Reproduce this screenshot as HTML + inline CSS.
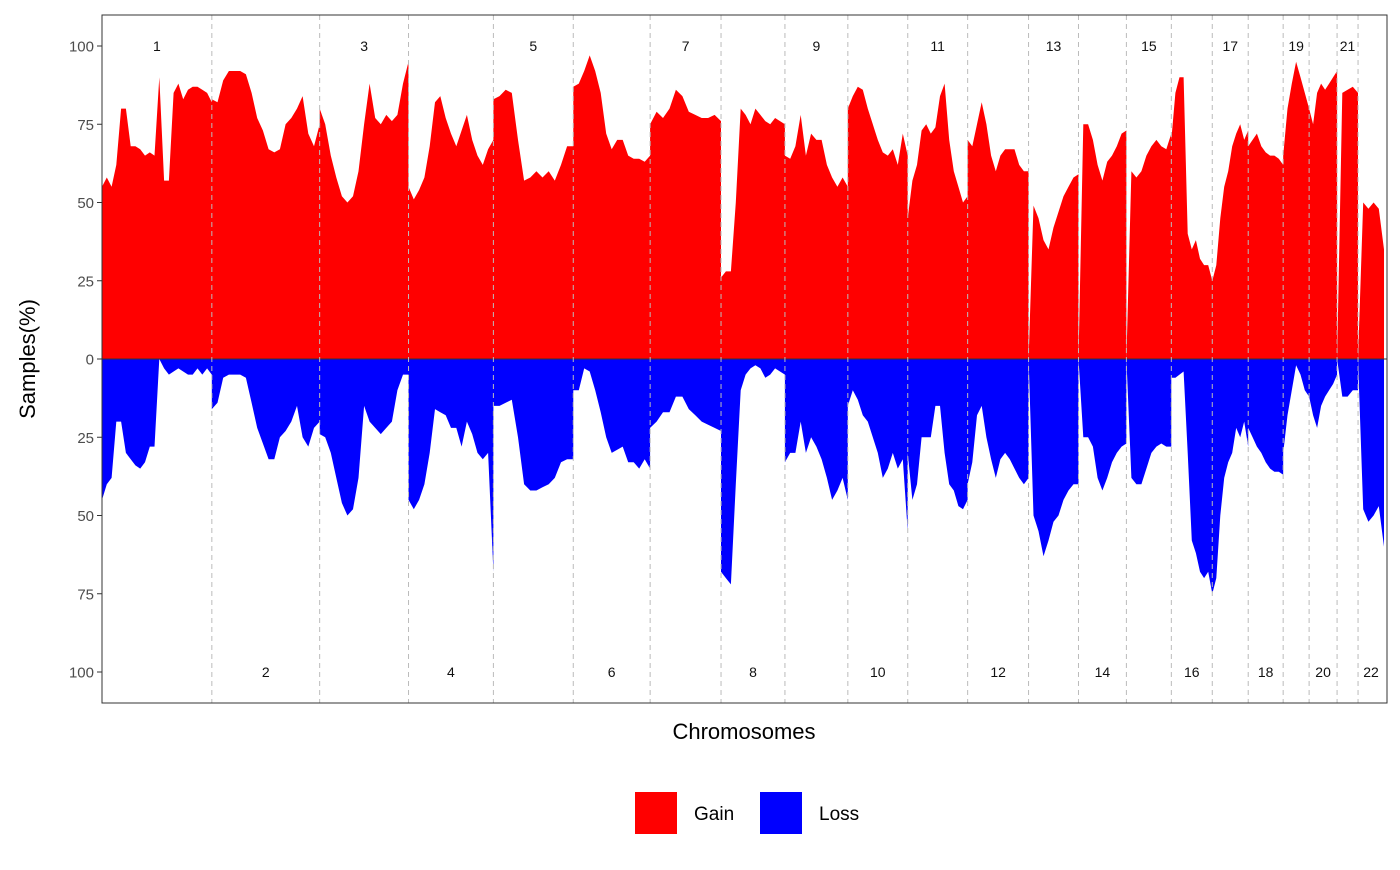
<!DOCTYPE html>
<html><head><meta charset="utf-8"><style>
body{margin:0;background:#fff;font-family:"Liberation Sans",Arial,sans-serif}
</style></head><body>
<svg id="chart" width="1400" height="865" xmlns="http://www.w3.org/2000/svg" font-family="Liberation Sans, Arial, sans-serif">
</svg>
<script>
const chromNames=["1","2","3","4","5","6","7","8","9","10","11","12","13","14","15","16","17","18","19","20","21","22"];
const chromLengths=[110,108,89,85,80,77,71,64,63,60,60,61,50,48,45,41,36,35,26,28,21,26];
const gainValues=[
[55,58,55,62,80,80,68,68,67,65,66,65,90,57,57,85,88,83,86,87,87,86,85,82],
[83,82,89,92,92,92,91,85,77,73,67,66,67,75,77,80,84,72,68,75],
[80,75,65,58,52,50,52,60,75,88,77,75,78,76,78,88,95],
[55,51,54,58,68,82,84,77,72,68,73,78,70,65,62,67,70],
[83,84,86,85,70,57,58,60,58,60,57,62,68,68],
[87,88,92,97,92,85,72,67,70,70,65,64,64,63,65],
[75,79,77,80,86,84,79,78,77,77,78,76],
[26,28,28,50,80,78,75,80,78,76,75,77,76,75],
[65,64,68,78,65,72,70,70,62,58,55,58,55],
[80,84,87,86,80,75,70,66,65,67,62,72,65],
[45,57,62,73,75,72,74,84,88,70,60,55,50,52],
[70,68,75,82,75,65,60,65,67,67,67,62,60,60],
[0,49,45,38,35,42,47,52,55,58,59],
[0,75,75,70,62,57,63,65,68,72,73],
[0,60,58,60,65,68,70,68,67,72],
[70,85,90,90,40,35,38,32,30,30,25],
[25,30,45,55,60,68,72,75,70,73],
[68,70,72,68,66,65,65,64,62],
[65,80,88,95,90,85,80],
[80,75,85,88,86,88,90,92],
[0,85,86,87,85],
[0,50,48,50,48,35]];
const lossValues=[
[45,40,38,20,20,30,32,34,35,33,28,28,0,3,5,4,3,4,5,5,3,5,3,5],
[16,14,6,5,5,5,6,14,22,27,32,32,25,23,20,15,25,28,22,20],
[24,25,30,38,46,50,48,38,15,20,22,24,22,20,10,5,5],
[45,48,45,40,30,16,17,18,22,22,28,20,24,30,32,30,68],
[15,15,14,13,25,40,42,42,41,40,38,33,32,32],
[10,10,3,4,10,17,25,30,29,28,33,33,35,32,35],
[22,20,17,17,12,12,16,18,20,21,22,23],
[68,70,72,40,10,5,3,2,3,6,5,3,4,5],
[33,30,30,20,30,25,28,32,38,45,42,38,45],
[15,10,13,18,20,25,30,38,35,30,35,32,55],
[30,45,40,25,25,25,15,15,30,40,42,47,48,45],
[40,33,18,15,25,32,38,32,30,32,35,38,40,38],
[0,50,55,63,58,52,50,45,42,40,40],
[0,25,25,28,38,42,38,33,30,28,27],
[0,38,40,40,35,30,28,27,28,28],
[6,6,5,4,30,58,62,68,70,68,75],
[75,70,50,38,33,30,22,25,20,28],
[22,25,28,30,33,35,36,36,37],
[30,18,10,2,5,10,12],
[12,18,22,15,12,10,8,5],
[0,12,12,10,10],
[0,48,52,50,47,60]];
const yTicks=[100,75,50,25,0,25,50,75,100];
const yTickSigned=[100,75,50,25,0,-25,-50,-75,-100];

const NS="http://www.w3.org/2000/svg";
const svg=document.getElementById('chart');
const L=102,R=1387,T=15,B=703,Y0=359,PX=3.13;
const DL=102,DR=1384;
const total=chromLengths.reduce((a,b)=>a+b,0);
const xs=g=>DL+(g/total)*(DR-DL);
const ys=v=>Y0-v*PX;
function mk(tag,attrs){const e=document.createElementNS(NS,tag);for(const k in attrs)e.setAttribute(k,attrs[k]);svg.appendChild(e);return e;}

mk('rect',{x:L,y:T,width:R-L,height:B-T,fill:'#fff'});
let starts=[],acc=0;chromLengths.forEach(l=>{starts.push(acc);acc+=l;});
let gp=`M${xs(0)},${Y0}`,lp=`M${xs(0)},${Y0}`;
chromLengths.forEach((len,c)=>{
  const g=gainValues[c],lo=lossValues[c];
  g.forEach((v,i)=>{gp+=` L${xs(starts[c]+len*i/(g.length-1)).toFixed(1)},${ys(v).toFixed(1)}`;});
  lo.forEach((v,i)=>{lp+=` L${xs(starts[c]+len*i/(lo.length-1)).toFixed(1)},${ys(-v).toFixed(1)}`;});
});
gp+=` L${xs(total)},${Y0} Z`;lp+=` L${xs(total)},${Y0} Z`;
let e=mk('path',{d:gp,fill:'#ff0000'});

e=mk('path',{d:lp,fill:'#0000ff'});

mk('line',{x1:L,x2:R,y1:Y0,y2:Y0,stroke:'#333','stroke-width':1});
chromLengths.forEach((len,c)=>{
  if(c>0){const b=mk('line',{x1:xs(starts[c]),x2:xs(starts[c]),y1:T,y2:B,stroke:'#bbb','stroke-width':1,'stroke-dasharray':'5,4'});
    }
  const odd=c%2===0;
  const t=mk('text',{x:xs(starts[c]+len/2),y:odd?51:677,'text-anchor':'middle','font-size':14,fill:'#111'});
  t.textContent=chromNames[c];
  
});
mk('rect',{x:L,y:T,width:R-L,height:B-T,fill:'none',stroke:'#333','stroke-width':1});
yTicks.forEach((v,i)=>{
  const y=ys(yTickSigned[i]);
  mk('line',{x1:L-5,x2:L,y1:y,y2:y,stroke:'#333'});
  const t=mk('text',{x:L-8,y:y+5.5,'text-anchor':'end','font-size':15,fill:'#4d4d4d'});
  t.textContent=v;
  
});
let t=mk('text',{x:0,y:0,transform:'translate(35,359) rotate(-90)','text-anchor':'middle','font-size':22,fill:'#000'});
t.textContent='Samples(%)';
t=mk('text',{x:744,y:739,'text-anchor':'middle','font-size':22,fill:'#000'});
t.textContent='Chromosomes';
e=mk('rect',{x:635,y:792,width:42,height:42,fill:'#ff0000'});
t=mk('text',{x:694,y:820,'font-size':19,fill:'#000'});t.textContent='Gain';
e=mk('rect',{x:760,y:792,width:42,height:42,fill:'#0000ff'});
t=mk('text',{x:819,y:820,'font-size':19,fill:'#000'});t.textContent='Loss';
</script>
</body></html>
